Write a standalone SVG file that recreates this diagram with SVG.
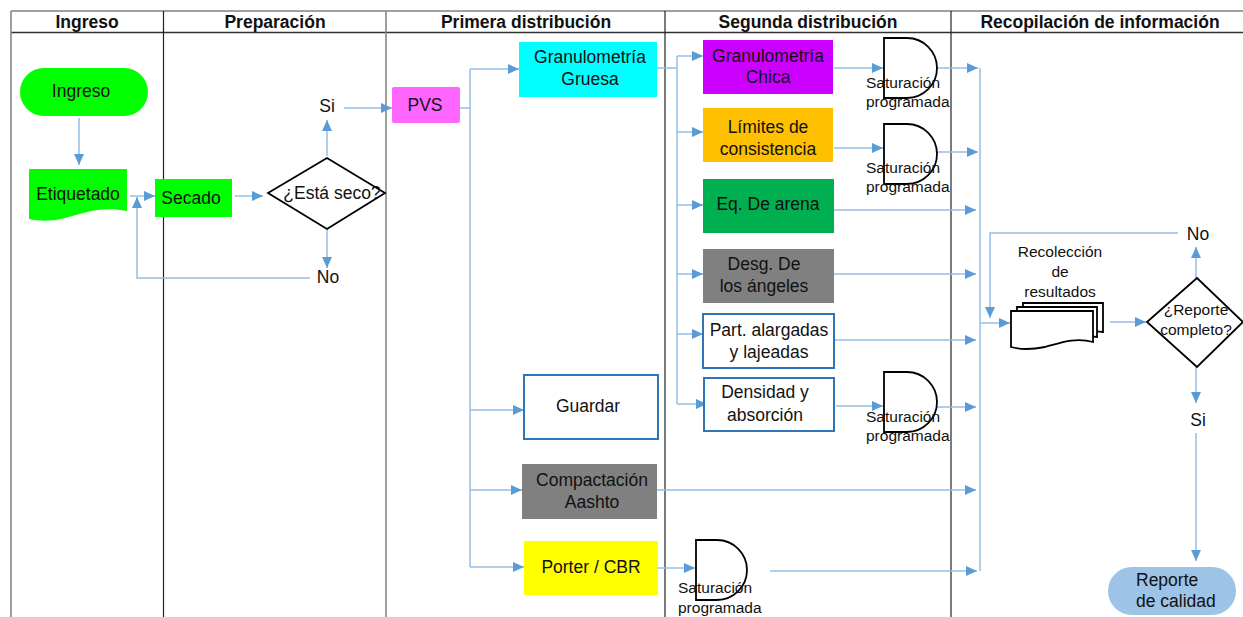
<svg xmlns="http://www.w3.org/2000/svg" width="1243" height="617" viewBox="0 0 1243 617">
<defs>
<marker id="arr" viewBox="0 0 11 10" refX="11" refY="5" markerWidth="11" markerHeight="10" orient="auto" markerUnits="userSpaceOnUse"><path d="M0,0 L11,5 L0,10 Z" fill="#5b9bd5"/></marker>
<style>
text{font-family:"Liberation Sans",Arial,sans-serif;fill:#111;}
.hd{font-size:17.5px;font-weight:bold;text-anchor:middle;}
.t{font-size:17.5px;text-anchor:middle;}
.s{font-size:15.5px;}
.sc{font-size:15.5px;text-anchor:middle;}
.c{fill:none;stroke:#94bde6;stroke-width:1.5;}
.a{fill:none;stroke:#94bde6;stroke-width:1.5;marker-end:url(#arr);}
.sh{stroke:#000;stroke-width:1.8;fill:#fff;}
.bb{fill:#fff;stroke:#2e75b6;stroke-width:2;}
</style>
</defs>
<rect width="1243" height="617" fill="#fff"/>
<g id="lanes">
<line x1="11" y1="11" x2="1243" y2="11" stroke="#808080" stroke-width="1.5"/>
<line x1="11" y1="32.5" x2="1243" y2="32.5" stroke="#333" stroke-width="1.3"/>
<line x1="11" y1="11" x2="11" y2="617" stroke="#808080" stroke-width="1.5"/>
<line x1="163.5" y1="11" x2="163.5" y2="617" stroke="#222" stroke-width="1.2"/>
<line x1="386" y1="11" x2="386" y2="617" stroke="#808080" stroke-width="1.5"/>
<line x1="665" y1="11" x2="665" y2="617" stroke="#222" stroke-width="1.2"/>
<line x1="951" y1="11" x2="951" y2="617" stroke="#222" stroke-width="1.2"/>
<text class="hd" x="87" y="28">Ingreso</text>
<text class="hd" x="275" y="28">Preparación</text>
<text class="hd" x="526" y="28">Primera distribución</text>
<text class="hd" x="808" y="28">Segunda distribución</text>
<text class="hd" x="1100" y="28">Recopilación de información</text>
</g>
<g id="connectors">
<path class="a" d="M79,118 V165"/>
<path class="a" d="M130,196 H155"/>
<path class="a" d="M235,196 H263"/>
<path class="a" d="M327,156 V120"/>
<path class="a" d="M344,108 H392"/>
<path class="a" d="M327,230 V268"/>
<path class="a" d="M310,278 H137 V197"/>
<path class="c" d="M460,108 H470"/>
<path class="c" d="M470,69 V567"/>
<path class="a" d="M470,69 H519"/>
<path class="a" d="M470,410 H524"/>
<path class="a" d="M470,490 H522"/>
<path class="a" d="M470,567 H524"/>
<path class="c" d="M657,68 H677"/>
<path class="c" d="M677,56 V404"/>
<path class="a" d="M677,56 H703"/>
<path class="a" d="M677,132 H703"/>
<path class="a" d="M677,205 H703"/>
<path class="a" d="M677,274 H703"/>
<path class="a" d="M677,334 H703"/>
<path class="a" d="M677,404 H707"/>
<path class="a" d="M834,68 H883"/>
<path class="a" d="M834,148 H883"/>
<path class="a" d="M836,406 H883"/>
<path class="a" d="M658,568 H695"/>
<path class="a" d="M936,68 H978"/>
<path class="a" d="M936,152 H978"/>
<path class="a" d="M834,210 H976"/>
<path class="a" d="M834,274 H976"/>
<path class="a" d="M834,340 H976"/>
<path class="a" d="M936,407 H976"/>
<path class="a" d="M657,490 H976"/>
<path class="a" d="M770,571 H977"/>
<path class="c" d="M980,68 V571"/>
<path class="a" d="M980,323 H1010"/>
<path class="a" d="M1110,322 H1146"/>
<path class="a" d="M1196,278 V247"/>
<path class="a" d="M1178,233 H990 V318"/>
<path class="a" d="M1196,367 V403"/>
<path class="a" d="M1196,433 V561"/>
</g>
<g id="n-ingreso"><rect x="20" y="68" width="128" height="48" rx="24" fill="#00ff00"/><text class="t" x="81" y="97">Ingreso</text></g>
<g id="n-etiquetado"><path d="M29,169 H127 V211 C100,206 85,213 65,218 C50,222 38,221 29,219 Z" fill="#00ff00"/><text class="t" x="78" y="200">Etiquetado</text></g>
<g id="n-secado"><rect x="155" y="179" width="77" height="38" fill="#00ff00"/><text class="t" x="191" y="204">Secado</text></g>
<g id="n-seco"><path class="sh" d="M268,193 L327,158 L385,193 L327,229 Z"/><text class="t" x="332" y="199">¿Está seco?</text></g>
<g id="l-si1"><text class="t" x="327" y="112">Si</text></g>
<g id="l-no1"><text class="t" x="328" y="283">No</text></g>
<g id="n-pvs"><rect x="392" y="87" width="68" height="36" rx="2" fill="#ff66ff"/><text class="t" x="425" y="111">PVS</text></g>
<g id="n-gruesa"><rect x="519" y="42" width="138" height="55" fill="#00ffff"/><text class="t" x="590" y="63">Granulometría</text><text class="t" x="590" y="85">Gruesa</text></g>
<g id="n-guardar"><rect class="bb" x="524" y="375" width="134" height="64"/><text class="t" x="588" y="412">Guardar</text></g>
<g id="n-compactacion"><rect x="522" y="464" width="135" height="55" fill="#808080"/><text class="t" x="592" y="486">Compactación</text><text class="t" x="592" y="508">Aashto</text></g>
<g id="n-porter"><rect x="524" y="541" width="134" height="54" fill="#ffff00"/><text class="t" x="591" y="573">Porter / CBR</text></g>
<g id="n-chica"><rect x="703" y="40" width="130" height="54" fill="#cc00ff"/><text class="t" x="768" y="62">Granulometría</text><text class="t" x="768" y="83">Chica</text></g>
<g id="n-limites"><rect x="703" y="108" width="130" height="54" fill="#ffc000"/><text class="t" x="768" y="133">Límites de</text><text class="t" x="768" y="155">consistencia</text></g>
<g id="n-arena"><rect x="703" y="179" width="131" height="54" fill="#00b050"/><text class="t" x="768" y="210">Eq. De arena</text></g>
<g id="n-desg"><rect x="703" y="249" width="131" height="54" fill="#808080"/><text class="t" x="764" y="270">Desg. De</text><text class="t" x="764" y="292">los ángeles</text></g>
<g id="n-part"><rect class="bb" x="703" y="314" width="131" height="54"/><text class="t" x="769" y="336">Part. alargadas</text><text class="t" x="769" y="358">y lajeadas</text></g>
<g id="n-densidad"><rect class="bb" x="704" y="378" width="130" height="53"/><text class="t" x="765" y="398">Densidad y</text><text class="t" x="765" y="421">absorción</text></g>
<g id="n-sat1"><path class="sh" fill="none" style="fill:none" d="M884,38 H907 A30,30 0 0 1 907,98 H884 Z"/><text class="s" x="866" y="88">Saturación</text><text class="s" x="866" y="107">programada</text></g>
<g id="n-sat2"><path class="sh" style="fill:none" d="M884,124 H907 A30,30 0 0 1 907,184 H884 Z"/><text class="s" x="866" y="173">Saturación</text><text class="s" x="866" y="192">programada</text></g>
<g id="n-sat3"><path class="sh" style="fill:none" d="M884,372 H907 A30,30 0 0 1 907,432 H884 Z"/><text class="s" x="866" y="422">Saturación</text><text class="s" x="866" y="441">programada</text></g>
<g id="n-sat4"><path class="sh" style="fill:none" d="M696,540 H717 A30,30 0 0 1 717,600 H696 Z"/><text class="s" x="678" y="593">Saturación</text><text class="s" x="678" y="613">programada</text></g>
<g id="n-recoleccion">
<path class="sh" d="M1023,303 H1103 V332 C1090,330 1080,333 1070,335 L1023,335 Z"/>
<path class="sh" d="M1017,307 H1097 V337 C1085,335 1075,338 1065,340 L1017,340 Z"/>
<path class="sh" d="M1011,311 H1093 V342 C1075,337 1060,343 1045,347 C1030,350 1018,349 1011,347 Z"/>
<text class="sc" x="1060" y="257">Recolección</text><text class="sc" x="1060" y="277">de</text><text class="sc" x="1060" y="297">resultados</text>
</g>
<g id="n-reporte-q"><path class="sh" d="M1147,322 L1197,278 L1243,322 L1197,367 Z"/><text class="sc" x="1196" y="315">¿Reporte</text><text class="sc" x="1196" y="335">completo?</text></g>
<g id="l-no2"><text class="t" x="1198" y="240">No</text></g>
<g id="l-si2"><text class="t" x="1198" y="426">Si</text></g>
<g id="n-calidad"><rect x="1108" y="567" width="128" height="48" rx="24" fill="#9dc3e6"/><text class="t" x="1136" y="586" style="text-anchor:start">Reporte</text><text class="t" x="1136" y="607" style="text-anchor:start">de calidad</text></g>
</svg>
